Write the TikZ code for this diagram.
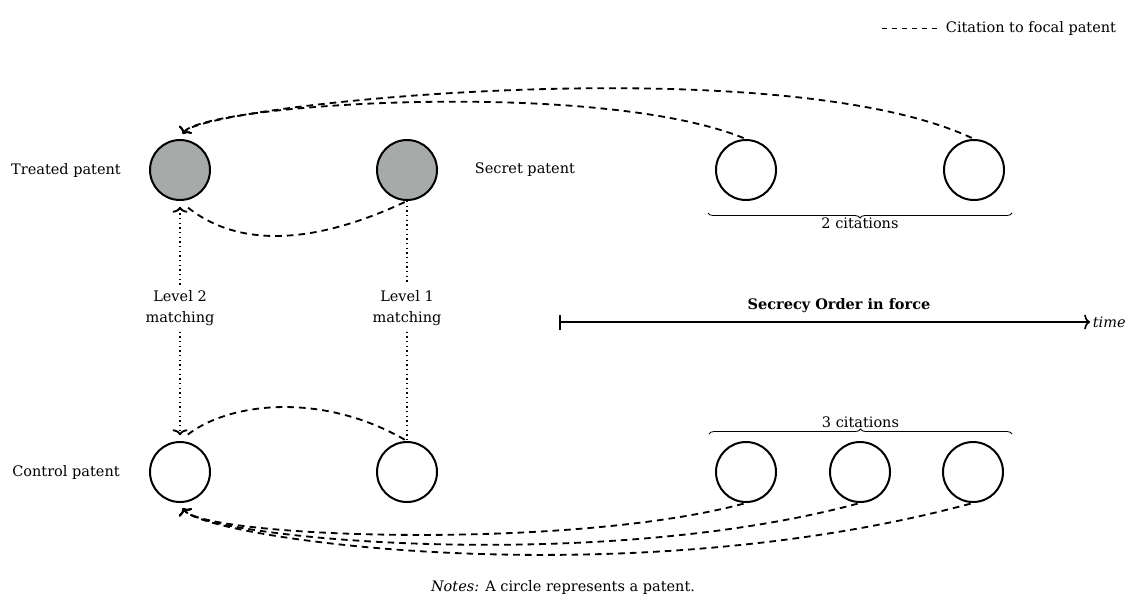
\documentclass[tikz,border=0pt]{standalone}
\usepackage{fontspec}
\setmainfont{DejaVu Serif}
\usetikzlibrary{arrows.meta,decorations.pathreplacing}
\definecolor{treatgray}{RGB}{166,170,168}
\begin{document}
\begin{tikzpicture}[x=0.6pt,y=0.6pt,
  every node/.style={font=\fontsize{8.7}{12.6}\selectfont},
  pat/.style={circle,draw,line width=1.2pt,minimum size=36pt,inner sep=0pt},
  treated/.style={pat,fill=treatgray},
  cite/.style={line width=1.1pt,dash pattern=on 4pt off 3pt,-{To[length=3.5pt,width=9pt]},shorten >=3.5pt,shorten <=1.5pt},
  citejoin/.style={line width=1.1pt,dash pattern=on 4pt off 3pt,shorten >=4pt,shorten <=1.5pt},
  match/.style={line width=0.8pt,dotted},
  matcharrow/.style={match,-{To[length=3.5pt,width=9pt,line width=1.1pt]},shorten >=3.5pt},
  brace/.style={decorate,decoration={brace,amplitude=3pt},line width=0.5pt},
  mbrace/.style={decorate,decoration={brace,amplitude=3pt,mirror},line width=0.5pt},
  lab/.style={align=center}
]
\useasboundingbox (0,0) rectangle (1134,-601);

% patents
\node[treated] (T1) at (180,-170) {};
\node[treated] (T2) at (407,-170) {};
\node[pat] (T3) at (746,-170) {};
\node[pat] (T4) at (974,-170) {};
\node[pat] (C1) at (180,-472) {};
\node[pat] (C2) at (407,-472) {};
\node[pat] (C3) at (746,-472) {};
\node[pat] (C4) at (860,-472) {};
\node[pat] (C5) at (973,-472) {};

% labels
\node (treatedlab) at (66,-170) {Treated patent};
\node (controllab) at (66,-472) {Control patent};
\node[anchor=west] (secretlab) at (469,-170) {Secret patent};
\node[lab] (L2) at (180,-308) {Level 2\\matching};
\node[lab] (L1) at (407,-308) {Level 1\\matching};

% citations to treated
\draw[cite] (T4.north) to[out=155,in=60,out distance=132pt,in distance=24pt] (T1.north);
\draw[cite] (T3.north) to[out=158,in=60,out distance=98pt,in distance=24pt] (T1.north);
\draw[citejoin] (T2.south) to[out=205,in=-40,out distance=66pt,in distance=42pt] (T1.south);

% citations to control
\draw[citejoin] (C2.north) to[out=150,in=40,out distance=60pt,in distance=36pt] (C1.north);
\draw[cite] (C3.south) to[out=195,in=-60,out distance=111pt,in distance=24pt] (C1.south);
\draw[cite] (C4.south) to[out=195,in=-60,out distance=167pt,in distance=24pt] (C1.south);
\draw[cite] (C5.south) to[out=195,in=-60,out distance=222pt,in distance=24pt] (C1.south);

% matching
\draw[matcharrow] (L2.north) -- (T1.south);
\draw[matcharrow] (L2.south) -- (C1.north);
\draw[match] (T2.south) -- (L1.north);
\draw[match] (L1.south) -- (C2.north);

% braces
\coordinate (b1a) at (708,-213);
\coordinate (b1b) at (1012,-213);
\draw[mbrace] (b1a) -- (b1b) node[midway,below=-1pt] (two) {2 citations};
\coordinate (b2a) at (709,-434);
\coordinate (b2b) at (1012,-434);
\draw[brace] (b2a) -- (b2b) node[midway,above=0.5pt] (three) {3 citations};

% timeline
\node[font=\fontsize{8.7}{12.6}\selectfont\bfseries] (so) at (839,-306) {Secrecy Order in force};
\node[anchor=west,inner sep=1.5pt] (time) at (1090,-322) {\itshape time};
\coordinate (ts) at (559,-322);
\draw[line width=1pt,{Bar[width=9pt]}-{To[length=3.5pt,width=9pt]}] (ts) -- (time.west);

% legend
\node[anchor=west] (leg) at (940,-28) {Citation to focal patent};
\coordinate (legs) at (882,-28);
\draw[dashed,line width=0.5pt] (legs) -- (leg.west);

% notes
\node (notes) at (563,-587) {\textit{Notes:} A circle represents a patent.};
\end{tikzpicture}
\end{document}
